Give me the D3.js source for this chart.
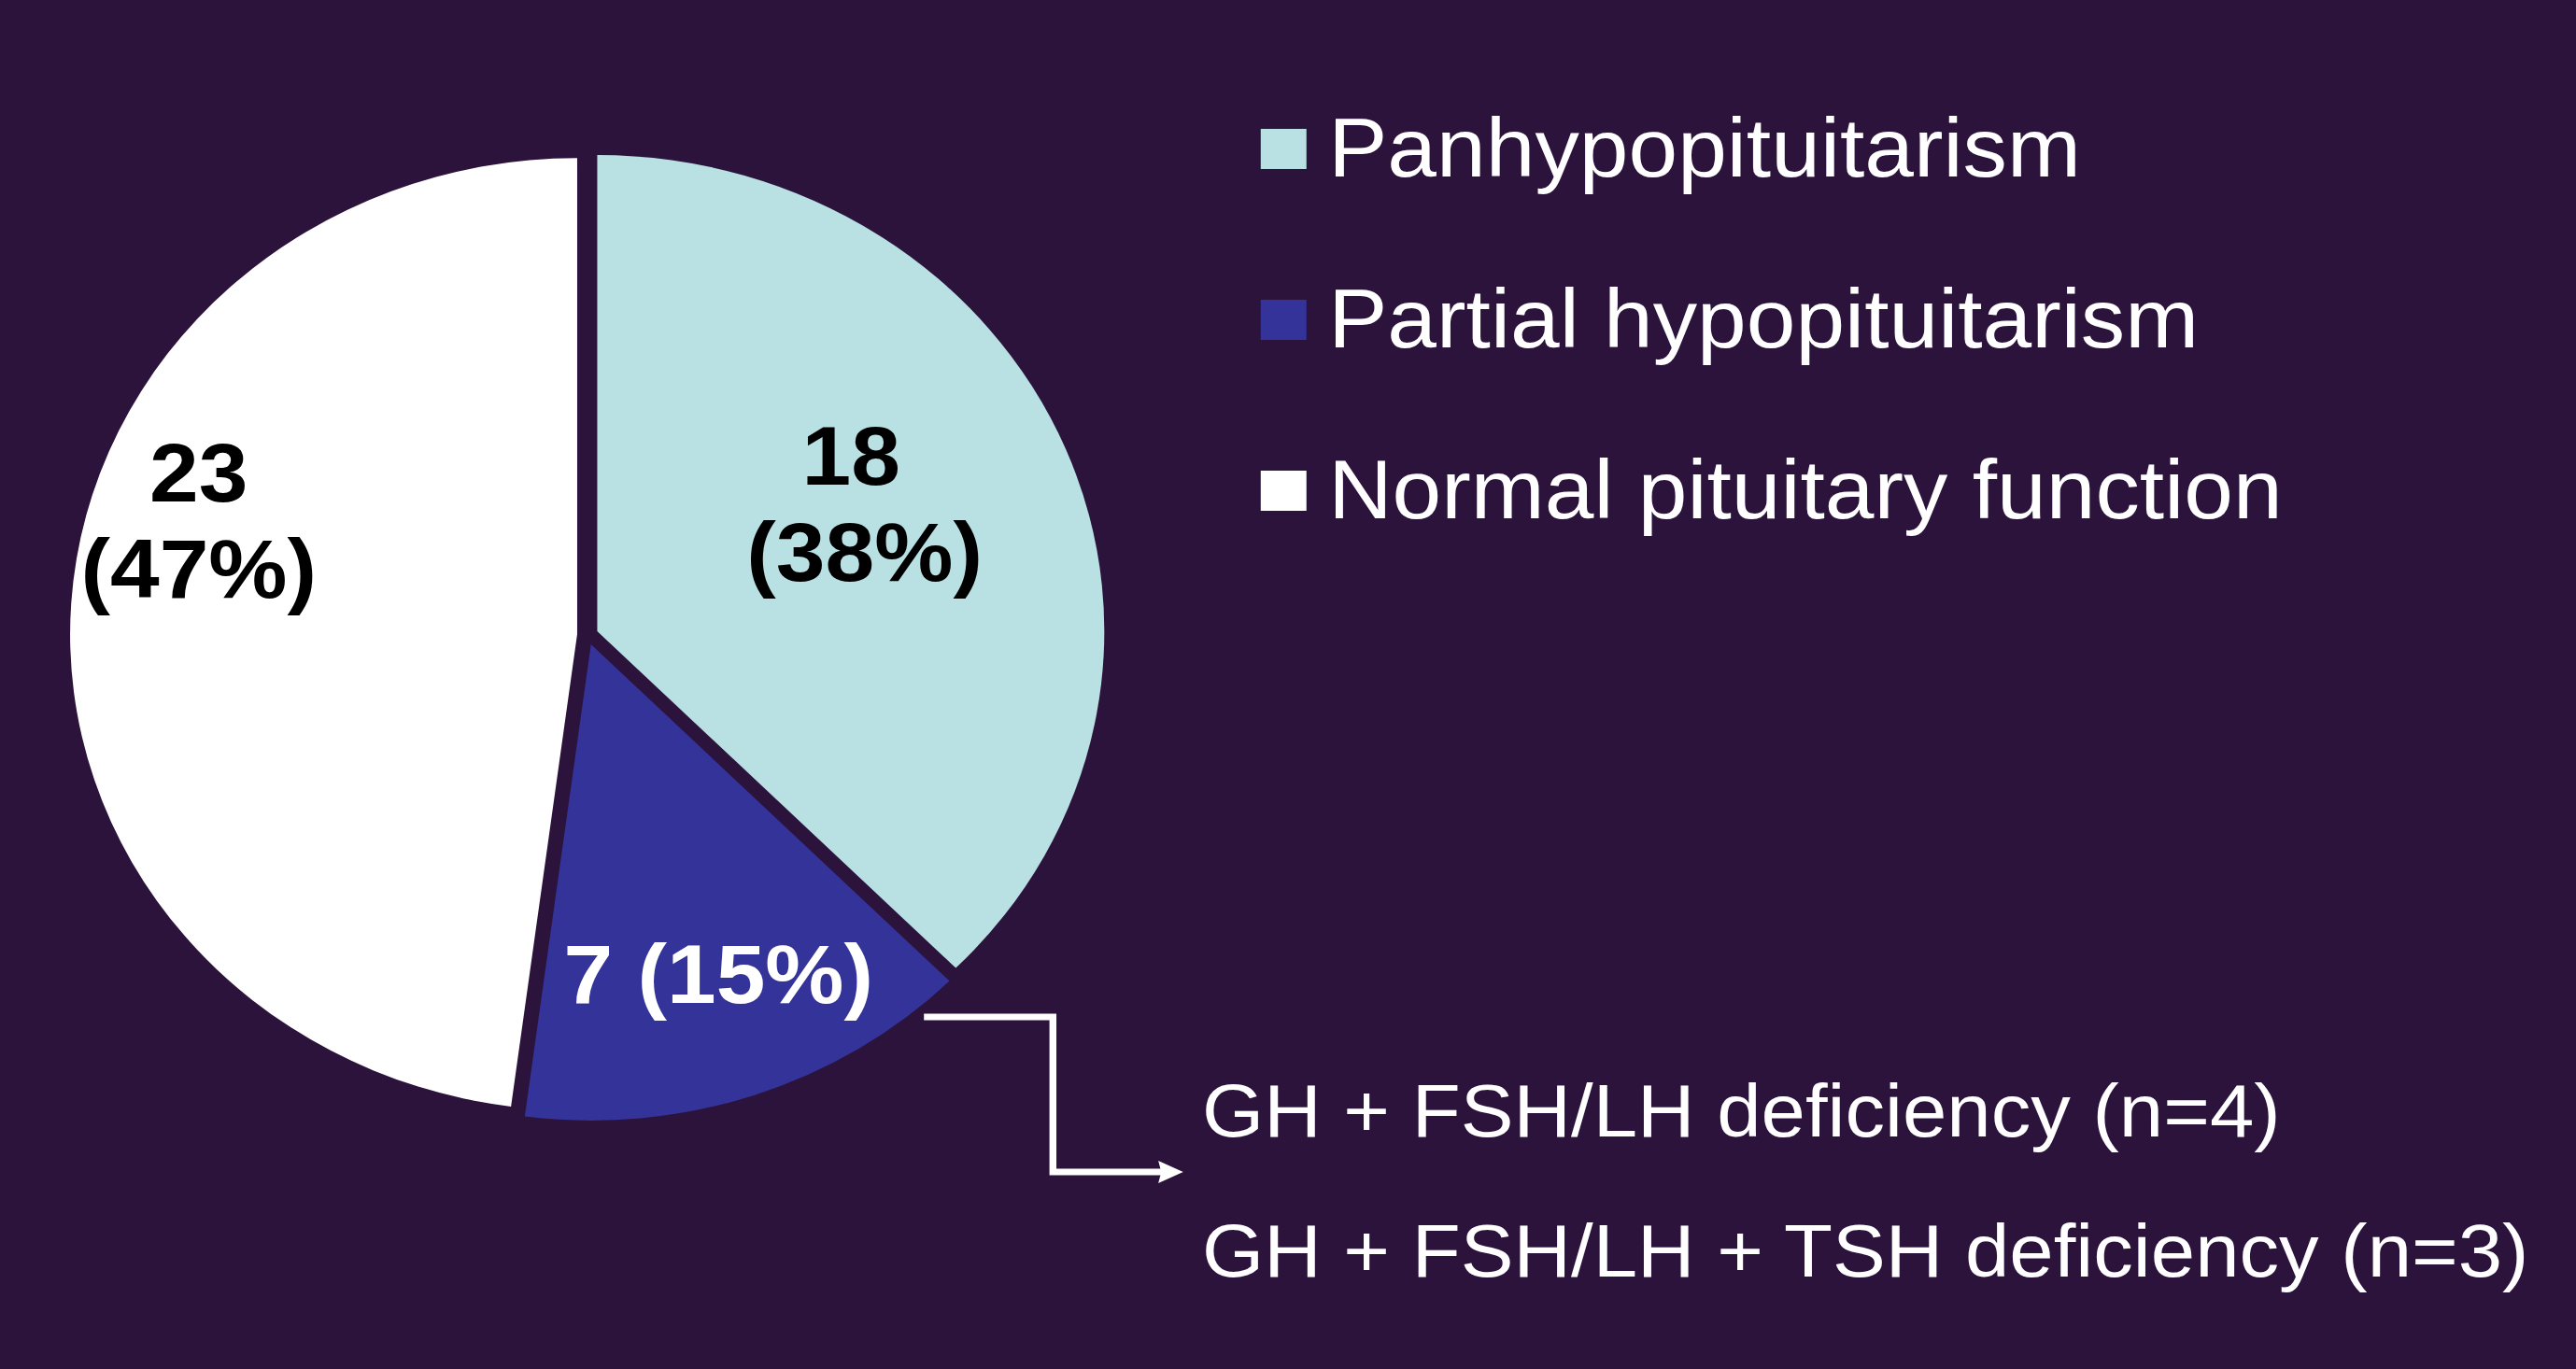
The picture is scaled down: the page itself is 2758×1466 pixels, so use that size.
<!DOCTYPE html>
<html>
<head>
<meta charset="utf-8">
<script src="https://cdn.jsdelivr.net/npm/d3@7"></script>
<style>
  html, body { margin: 0; padding: 0; background: #2c133b; }
  svg { display: block; }
  text { font-family: "Liberation Sans", Arial, Helvetica, sans-serif; }
</style>
</head>
<body>
<div id="chart"></div>
<script>
// data
const categories = ["Panhypopituitarism", "Partial hypopituitarism", "Normal pituitary function"];
const counts = [18, 7, 23];
const percentLabels = ["38%", "15%", "47%"];
const subgroupLabels = ["GH + FSH/LH deficiency (n=4)", "GH + FSH/LH + TSH deficiency (n=3)"];

// styles
const sliceColors = ["#b9e0e3", "#333399", "#ffffff"];
const labelColors = ["#000000", "#ffffff", "#000000"];
const bg = "#2c133b";

const width = 2758, height = 1466;
const stretch = 1.0645; // the source picture is a little wider than tall

// where each slice label sits: angle (deg, clockwise from top) and distance from slice centre
const labelPlace = [
    { angle: 62.9, dist: 302, singleLine: false, dx0: -13.6 },
    { angle: 160, dist: 375, singleLine: true, dx0: 0 },
    { angle: 287.9, dist: 400, singleLine: false, dx0: 0 },
];

const svg = d3
    .select("#chart")
    .append("svg")
    .attr("width", width)
    .attr("height", height);

svg.append("rect").attr("width", width).attr("height", height).attr("fill", bg);

const root = svg.append("g").attr("transform", `scale(${stretch},1)`);

const cx = 591, cy = 680;
const radius = 510;
const explode = 10.5;

function polar(angle, dist) {
    return [Math.sin(angle) * dist, -Math.cos(angle) * dist];
}

const pie = d3.pie().sort(null).value((d) => d);
const arcs = pie(counts);
arcs.forEach((d) => {
    d.off = polar((d.startAngle + d.endAngle) / 2, explode);
});

const arc = d3.arc().innerRadius(0).outerRadius(radius);

const pieG = root.append("g").attr("transform", `translate(${cx},${cy})`);

pieG.selectAll("path.slice")
    .data(arcs)
    .join("path")
    .attr("class", "slice")
    .attr("transform", (d) => `translate(${d.off[0]},${d.off[1]})`)
    .attr("d", arc)
    .attr("fill", (d, i) => sliceColors[i]);

// slice labels
const fs = 89, lineGap = 103;
arcs.forEach((d, i) => {
    const p = labelPlace[i];
    const [lx, ly] = polar((p.angle * Math.PI) / 180, p.dist);
    const x = d.off[0] + lx, y = d.off[1] + ly;
    const t = pieG.append("text")
        .attr("text-anchor", "middle")
        .attr("font-weight", "bold")
        .attr("font-size", fs)
        .attr("fill", labelColors[i]);
    if (p.singleLine) {
        t.append("tspan")
            .attr("x", x)
            .attr("y", y + 0.358 * fs)
            .text(`${counts[i]} (${percentLabels[i]})`);
    } else {
        t.append("tspan")
            .attr("x", x + p.dx0)
            .attr("y", y - lineGap / 2 + 0.358 * fs)
            .text(counts[i]);
        t.append("tspan")
            .attr("x", x)
            .attr("y", y + lineGap / 2 + 0.358 * fs)
            .text(`(${percentLabels[i]})`);
    }
});

// legend
const legend = root.append("g").attr("transform", "translate(1268,189)");
const rowGap = 183;
const rows = legend.selectAll("g.row")
    .data(categories)
    .join("g")
    .attr("class", "row")
    .attr("transform", (d, i) => `translate(0,${i * rowGap})`);

rows.append("rect")
    .attr("x", 0)
    .attr("y", -51)
    .attr("width", 46)
    .attr("height", 43)
    .attr("fill", (d, i) => sliceColors[i]);

rows.append("text")
    .attr("x", 68)
    .attr("y", 0)
    .attr("font-size", 89)
    .attr("fill", "#ffffff")
    .text((d) => d);

// connector from partial slice to its breakdown
const blue = arcs[1];
const [sx, sy] = polar((140 * Math.PI) / 180, radius + 11);
const start = [cx + blue.off[0] + sx, cy + blue.off[1] + sy];
const bendX = 1059, endY = 1255, tipX = 1190;

root.append("path")
    .attr("d", d3.line()([start, [bendX, start[1]], [bendX, endY], [tipX - 18, endY]]))
    .attr("fill", "none")
    .attr("stroke", "#ffffff")
    .attr("stroke-width", 7)
    .attr("stroke-linejoin", "miter");

root.append("path")
    .attr("d", d3.line()([[tipX, endY], [tipX - 25, endY - 12], [tipX - 22, endY], [tipX - 25, endY + 12]]) + "Z")
    .attr("fill", "#ffffff");

root.selectAll("text.sub")
    .data(subgroupLabels)
    .join("text")
    .attr("class", "sub")
    .attr("x", 1209)
    .attr("y", (d, i) => 1217 + i * 150)
    .attr("font-size", 80)
    .attr("fill", "#ffffff")
    .text((d) => d);
</script>
</body>
</html>
